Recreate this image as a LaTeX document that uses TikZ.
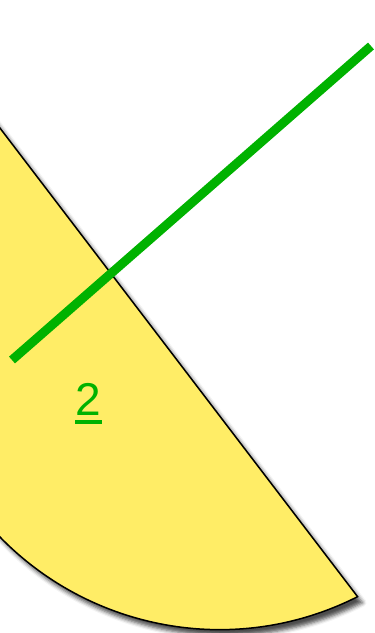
\documentclass[tikz,border=0pt]{standalone}
\usepackage{fontspec}
\setmainfont{Liberation Sans}
\usetikzlibrary{calc,shadows.blur}
\definecolor{segyellow}{RGB}{255,237,102}
\definecolor{linegreen}{RGB}{0,178,0}
\tikzset{
  segment/.style={fill=segyellow, draw=black, line width=1.5pt, line join=miter,
    blur shadow={shadow xshift=5pt, shadow yshift=-6pt, shadow blur radius=4pt, shadow opacity=70}},
  greenline/.style={draw=linegreen, line width=9pt, line cap=butt},
  lbl/.style={text=linegreen, font=\fontsize{46pt}{50pt}\selectfont, inner sep=0pt, anchor=base},
  uline/.style={draw=linegreen, line width=4.5pt}
}
\begin{document}
\begin{tikzpicture}[x=1pt,y=-1pt]
\useasboundingbox (0,0) rectangle (375,633);
\coordinate (C) at (219.5,323.3);
\coordinate (P1) at ($(C)+(222.1:306.3)$);
\coordinate (P2) at ($(C)+(63.2:306.3)$);
\path[segment] (P1) -- (P2) arc[start angle=63.2, end angle=222.1, radius=306.3] -- cycle;
\coordinate (G1) at (12,360);
\coordinate (G2) at (371,46);
\draw[greenline] (G1) -- (G2);
\node[lbl] (L) at (88.5,415) {2};
\coordinate (U1) at (75,422);
\coordinate (U2) at (102,422);
\draw[uline] (U1) -- (U2);
\end{tikzpicture}
\end{document}
